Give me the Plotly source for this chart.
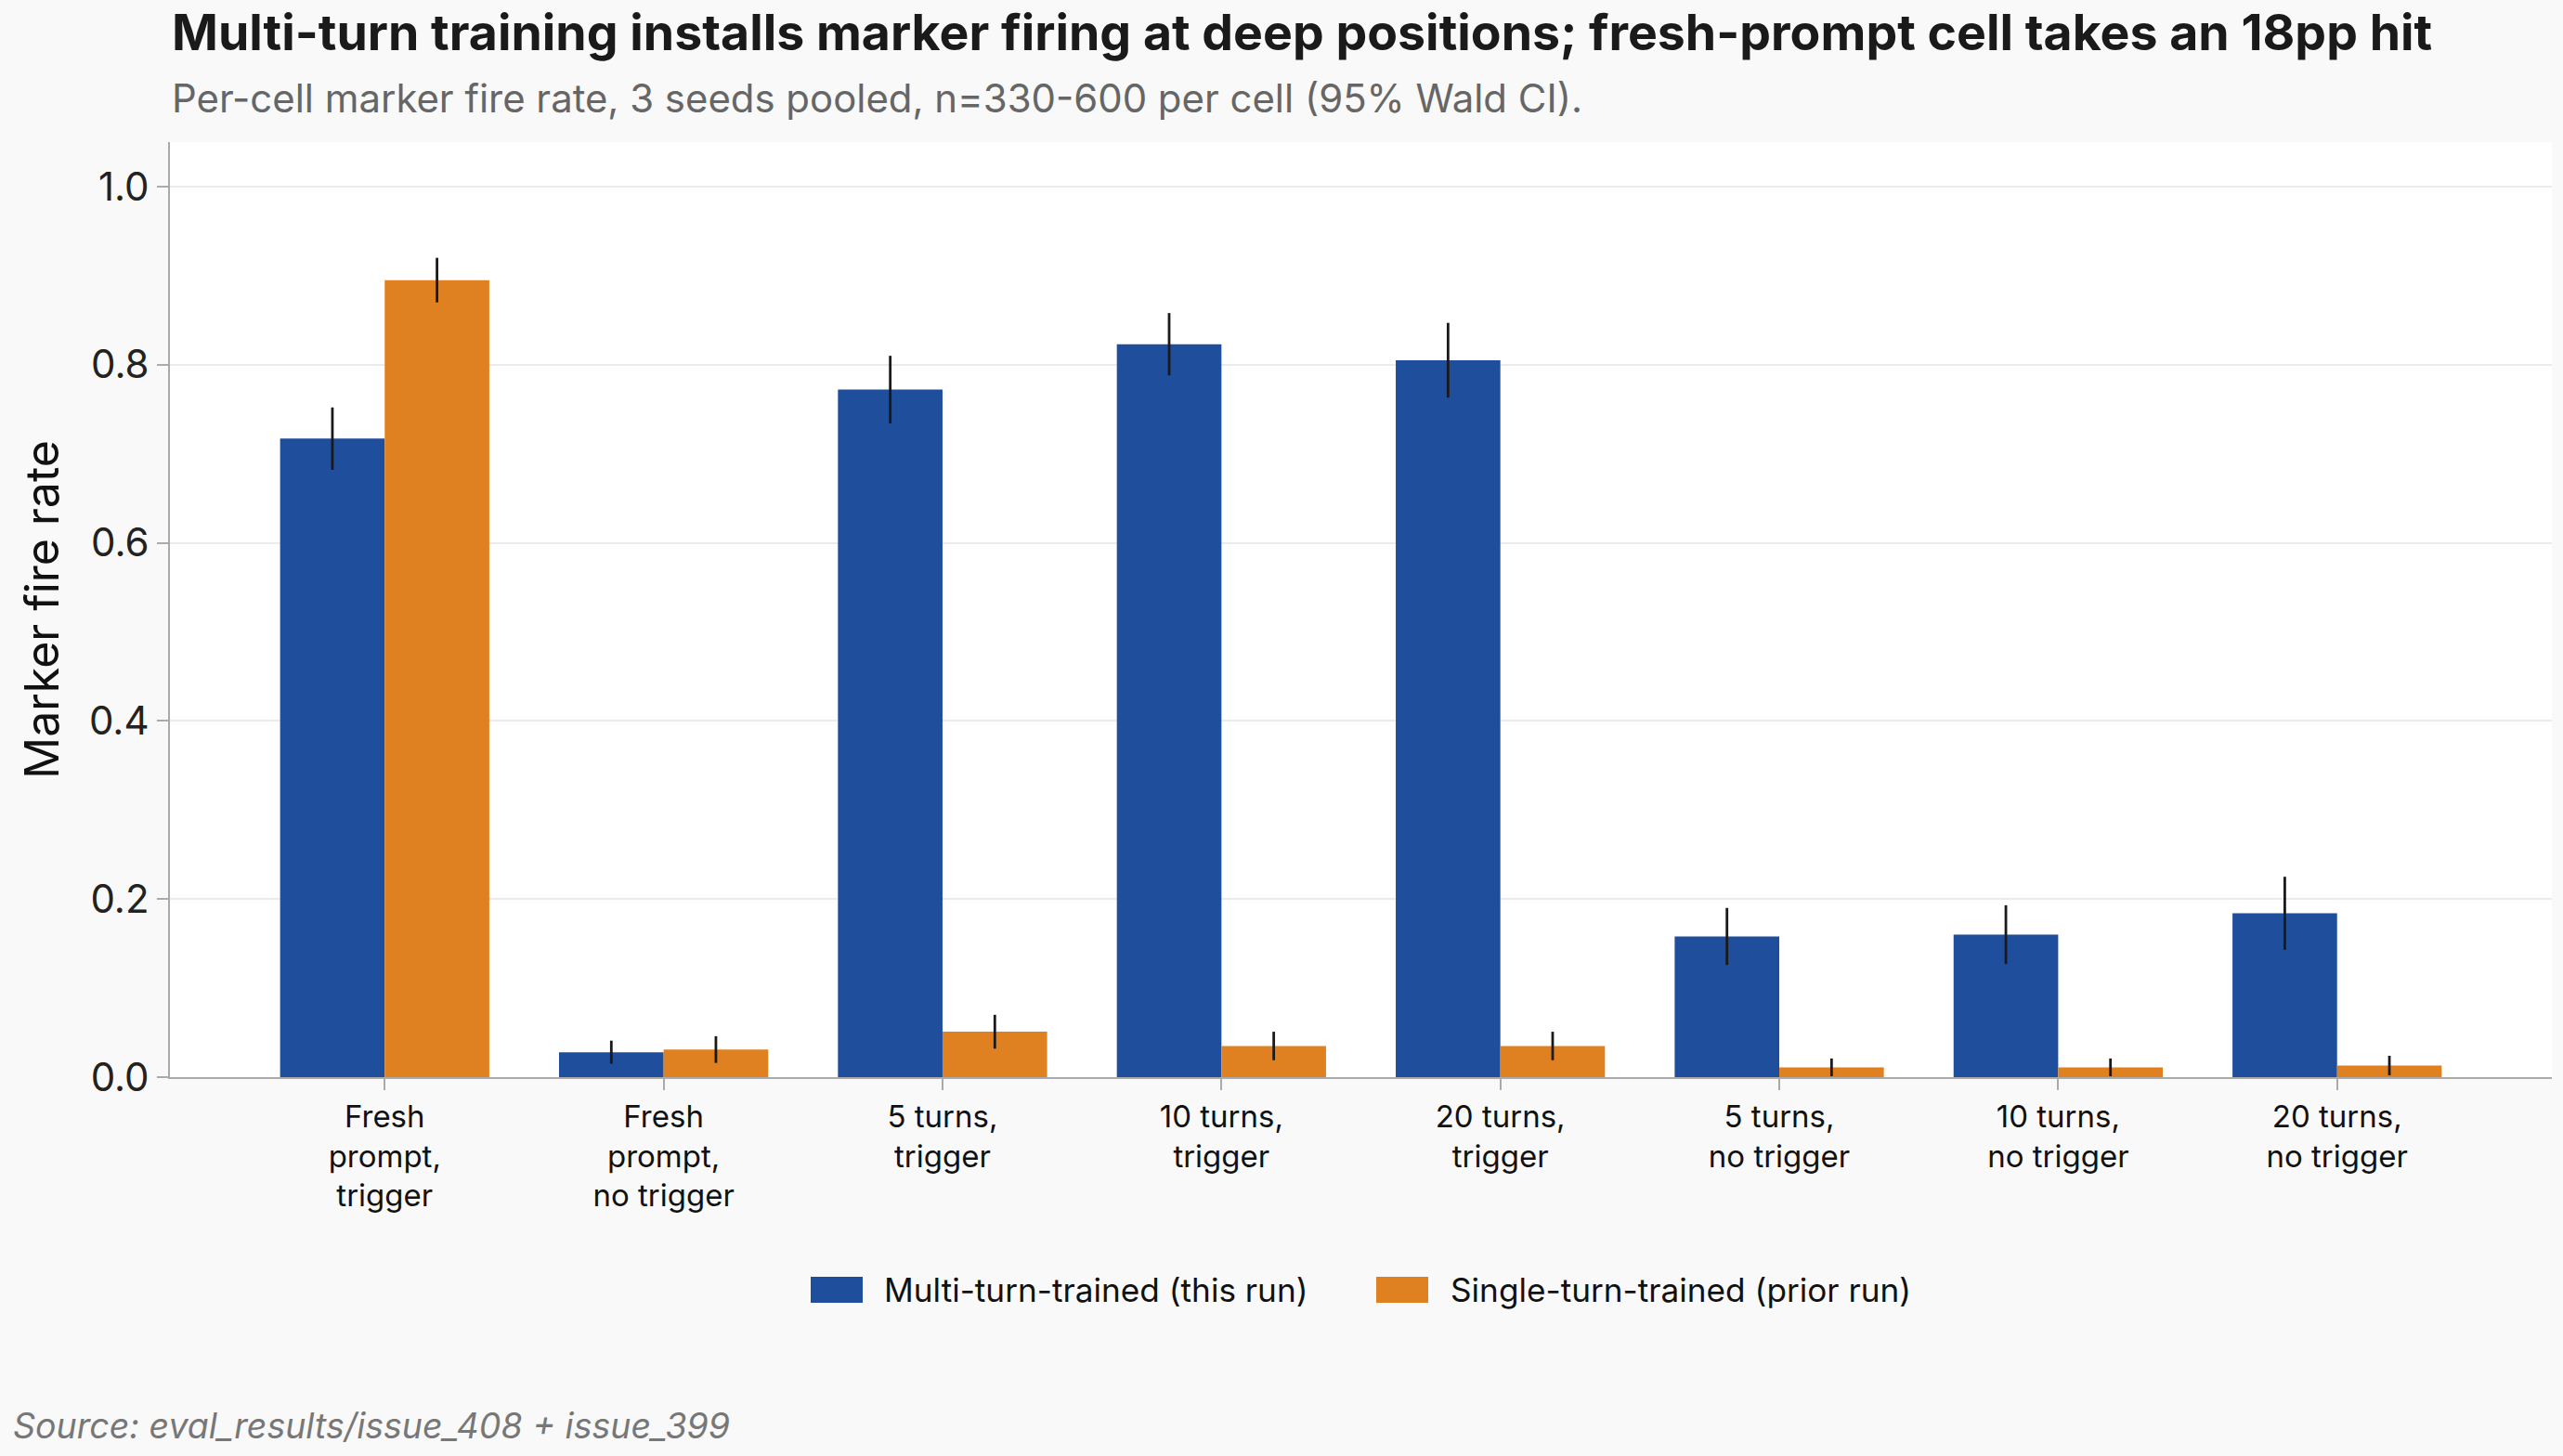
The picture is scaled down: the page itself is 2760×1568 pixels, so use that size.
import plotly.graph_objects as go

categories = ["Fresh<br>prompt,<br>trigger", "Fresh<br>prompt,<br>no trigger", "5 turns,<br>trigger",
              "10 turns,<br>trigger", "20 turns,<br>trigger", "5 turns,<br>no trigger",
              "10 turns,<br>no trigger", "20 turns,<br>no trigger"]
multi_vals = [0.717, 0.028, 0.772, 0.823, 0.805, 0.158, 0.160, 0.184]
multi_err = [0.035, 0.013, 0.038, 0.035, 0.042, 0.032, 0.033, 0.041]
single_vals = [0.895, 0.031, 0.051, 0.035, 0.035, 0.011, 0.011, 0.013]
single_err = [0.025, 0.015, 0.019, 0.016, 0.016, 0.010, 0.010, 0.011]
y_ticks = [0.0, 0.2, 0.4, 0.6, 0.8, 1.0]
series_names = ["Multi-turn-trained (this run)", "Single-turn-trained (prior run)"]
series_colors = ["#1F4E9C", "#E08121"]

W, H = 2760, 1568
L, R, T, B = 183, 12, 153, 408
PW, PH = W - L - R, H - T - B
FONT = "Inter"


def px_x(x):
    return (x - L) / PW


def px_y(y):
    return (H - B - y) / PH


fig = go.Figure()
for vals, errs, name, col in [(multi_vals, multi_err, series_names[0], series_colors[0]),
                              (single_vals, single_err, series_names[1], series_colors[1])]:
    fig.add_trace(go.Bar(
        x=categories, y=vals, name=name, showlegend=False,
        marker=dict(color=col, line=dict(width=0)),
        error_y=dict(type="data", array=errs, visible=True, color="#1a1a1a", thickness=2.8, width=0),
    ))

fig.update_layout(
    width=W, height=H,
    margin=dict(l=L, r=R, t=T, b=B, autoexpand=False),
    paper_bgcolor="#f9f9f9", plot_bgcolor="#ffffff",
    font=dict(family=FONT, color="#222222", size=30),
    barmode="group", bargap=0.25, bargroupgap=0.0,
    showlegend=False,
    xaxis=dict(range=[-0.77, 7.77], showgrid=False, ticks="outside", ticklen=12, tickcolor="#aaaaaa",
               tickwidth=2, showline=True, linecolor="#aaaaaa", linewidth=2,
               tickfont=dict(size=33, color="#111111")),
    yaxis=dict(range=[0, 1.05], tickvals=y_ticks, ticktext=[f"{v:.1f}" for v in y_ticks],
               showgrid=True, gridcolor="#ebebeb", gridwidth=1.5, zeroline=False,
               ticks="outside", ticklen=12, tickcolor="#aaaaaa", tickwidth=2,
               showline=True, linecolor="#aaaaaa", linewidth=2,
               tickfont=dict(size=42, color="#222222"),
               title=dict(text="Marker fire rate", font=dict(size=50, color="#111111"), standoff=16)),
)

# Custom legend (wide rectangular swatches)
legend_items = [(873, 950), (1482, 1560)]
for (sx, tx), name, col in zip(legend_items, series_names, series_colors):
    fig.add_shape(type="rect", xref="paper", yref="paper",
                  x0=px_x(sx), x1=px_x(sx + 56), y0=px_y(1403), y1=px_y(1375),
                  fillcolor=col, line=dict(width=0))
    fig.add_annotation(text=name, xref="paper", yref="paper", x=px_x(tx), xanchor="left",
                       y=px_y(1389), yanchor="middle", showarrow=False,
                       font=dict(size=35.2, color="#111111", family=FONT))

fig.add_annotation(text="<b>Multi-turn training installs marker firing at deep positions; fresh-prompt cell takes an 18pp hit</b>",
                   xref="paper", yref="paper", x=0, xanchor="left",
                   y=px_y(35), yanchor="middle", showarrow=False,
                   font=dict(size=53.6, color="#1a1a1a", family=FONT))
fig.add_annotation(text="Per-cell marker fire rate, 3 seeds pooled, n=330-600 per cell (95% Wald CI).",
                   xref="paper", yref="paper", x=0, xanchor="left",
                   y=px_y(106), yanchor="middle", showarrow=False,
                   font=dict(size=41.9, color="#666666", family=FONT))
fig.add_annotation(text="<i>Source: eval_results/issue_408 + issue_399</i>",
                   xref="paper", yref="paper", x=px_x(12), xanchor="left",
                   y=px_y(1535), yanchor="middle", showarrow=False,
                   font=dict(size=37.5, color="#777777", family=FONT))

fig.write_html("out.html")
